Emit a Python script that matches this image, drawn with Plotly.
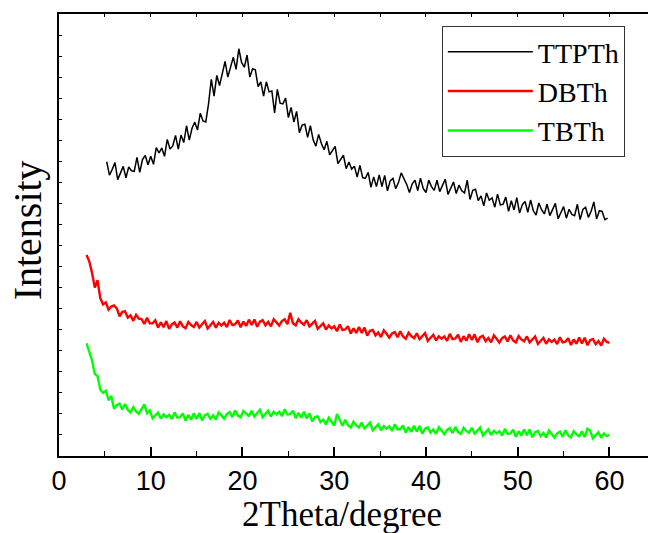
import plotly.graph_objects as go

# ---- data ----
# scan grids: start angle and step (2theta, degree)
TTPTH_START, DB_START, TB_START, STEP = 5.2, 3.0, 3.0, 0.3

ttpth = [
    13.98, 13.34, 13.62, 13.94, 13.13, 13.43, 13.76, 13.22, 13.73, 13.55,
    13.52, 14.19, 13.48, 14.08, 14.28, 13.84, 14.24, 13.86, 14.65, 14.4,
    14.63, 14.24, 15.04, 14.59, 14.73, 15.23, 14.58, 15.25, 14.89, 15.69,
    15.01, 15.57, 15.86, 15.49, 16.29, 15.92, 15.87, 16.73, 17.9, 17.1,
    18.08, 17.6, 18.18, 18.75, 18.0, 18.47, 18.95, 18.37, 19.35, 18.7,
    18.47, 19.05, 18.0, 18.4, 18.35, 17.55, 17.78, 17.1, 17.78, 17.3,
    17.34, 16.3, 17.42, 16.76, 16.73, 17.0, 16.08, 16.56, 15.87, 16.37,
    15.36, 15.72, 15.76, 15.14, 15.69, 15.02, 14.72, 15.28, 14.85, 14.55,
    14.95, 14.31, 14.51, 14.71, 13.89, 14.09, 14.29, 13.65, 13.97, 13.63,
    13.77, 13.25, 13.81, 13.23, 13.19, 13.48, 12.76, 13.26, 12.8, 13.36,
    12.8, 13.33, 12.6, 13.07, 13.19, 12.7, 12.99, 13.45, 13.21, 12.9,
    12.52, 12.93, 13.1, 12.61, 13.2, 12.71, 12.52, 13.11, 12.8, 12.62,
    13.1, 12.56, 12.86, 13.15, 12.43, 12.72, 13.02, 12.47, 12.87, 12.6,
    12.5, 13.1, 12.19, 12.62, 12.67, 12.13, 12.36, 11.89, 12.5, 12.15,
    12.27, 11.82, 12.44, 11.93, 11.96, 12.3, 11.62, 12.13, 11.69, 12.28,
    11.54, 11.94, 12.09, 11.58, 12.16, 11.65, 11.45, 12.02, 11.7, 11.5,
    11.97, 11.42, 11.71, 12.0, 11.27, 11.56, 11.85, 11.3, 11.72, 11.48,
    11.42, 11.96, 11.23, 11.71, 11.82, 11.34, 11.63, 12.07, 11.26, 11.66,
    11.62, 11.23, 11.3,
]

dbth = [
    9.55, 9.25, 8.7, 8.0, 8.35, 7.5, 7.2, 7.3, 6.95, 7.1,
    7.15, 7.01, 6.63, 6.85, 6.87, 6.58, 6.68, 6.42, 6.71, 6.53,
    6.51, 6.27, 6.57, 6.3, 6.3, 6.45, 6.1, 6.35, 6.12, 6.41,
    6.04, 6.25, 6.34, 6.1, 6.4, 6.16, 6.07, 6.37, 6.22, 6.13,
    6.37, 6.1, 6.26, 6.41, 6.06, 6.21, 6.37, 6.1, 6.32, 6.2,
    6.33, 6.12, 6.46, 6.22, 6.26, 6.44, 6.12, 6.39, 6.18, 6.48,
    6.22, 6.49, 6.14, 6.38, 6.45, 6.21, 6.37, 6.16, 6.5, 6.35,
    6.2, 6.41, 6.5, 6.26, 6.8, 6.31, 6.21, 6.5, 6.34, 6.24,
    6.45, 6.16, 6.29, 6.42, 6.04, 6.17, 6.3, 6.01, 6.2, 6.06,
    6.16, 5.93, 6.25, 5.99, 6.01, 6.17, 5.82, 6.07, 5.85, 6.13,
    5.84, 6.1, 5.72, 5.95, 5.99, 5.73, 5.87, 5.65, 5.97, 5.81,
    5.62, 5.82, 5.89, 5.64, 5.93, 5.68, 5.57, 5.86, 5.7, 5.6,
    5.83, 5.55, 5.69, 5.84, 5.47, 5.62, 5.76, 5.49, 5.69, 5.57,
    5.68, 5.47, 5.8, 5.55, 5.58, 5.76, 5.42, 5.69, 5.48, 5.78,
    5.51, 5.78, 5.41, 5.65, 5.71, 5.46, 5.61, 5.4, 5.73, 5.57,
    5.39, 5.6, 5.68, 5.44, 5.74, 5.49, 5.4, 5.7, 5.54, 5.45,
    5.68, 5.4, 5.54, 5.68, 5.32, 5.46, 5.61, 5.33, 5.54, 5.42,
    5.53, 5.32, 5.64, 5.4, 5.43, 5.6, 5.27, 5.54, 5.33, 5.63,
    5.35, 5.62, 5.26, 5.5, 5.56, 5.31, 5.46, 5.25, 5.57, 5.42, 5.38,
]

tbth = [
    5.35, 4.9, 4.55, 3.9, 3.8, 3.15, 3.0, 3.1, 2.65, 2.85,
    2.24, 2.43, 2.49, 2.21, 2.47, 2.2, 2.07, 2.32, 2.12, 2.0,
    2.2, 2.45, 2.04, 2.17, 1.79, 1.92, 2.06, 1.78, 1.98, 1.85,
    1.96, 1.75, 2.07, 1.82, 1.85, 2.02, 1.68, 1.95, 1.73, 2.03,
    1.76, 2.04, 1.69, 1.94, 2.0, 1.77, 1.93, 1.73, 2.07, 1.93,
    1.77, 1.99, 2.09, 1.85, 2.16, 1.92, 1.84, 2.14, 2.0, 1.91,
    2.15, 1.88, 2.04, 2.19, 1.84, 1.99, 2.15, 1.88, 2.1, 1.98,
    2.1, 1.89, 2.22, 1.97, 1.99, 2.15, 1.8, 2.05, 1.82, 2.1,
    1.79, 2.03, 1.64, 1.85, 1.88, 1.61, 1.73, 1.5, 1.81, 1.64,
    1.44, 2.0, 1.7, 1.44, 1.72, 1.46, 1.35, 1.63, 1.46, 1.36,
    1.59, 1.31, 1.45, 1.59, 1.22, 1.36, 1.5, 1.22, 1.42, 1.3,
    1.41, 1.19, 1.51, 1.26, 1.28, 1.45, 1.11, 1.37, 1.15, 1.44,
    1.16, 1.43, 1.06, 1.3, 1.36, 1.11, 1.26, 1.05, 1.37, 1.22,
    1.04, 1.24, 1.33, 1.09, 1.38, 1.14, 1.05, 1.34, 1.19, 1.1,
    1.34, 1.06, 1.2, 1.35, 0.98, 1.13, 1.27, 1.0, 1.2, 1.08,
    1.18, 0.97, 1.29, 1.05, 1.07, 1.25, 0.91, 1.18, 0.97, 1.26,
    0.99, 1.26, 0.89, 1.13, 1.19, 0.94, 1.09, 0.88, 1.21, 1.05,
    0.87, 1.08, 1.16, 0.92, 1.22, 0.98, 0.88, 1.18, 1.03, 0.94,
    1.17, 0.9, 1.3, 1.2, 0.84, 0.99, 1.13, 0.87, 1.07, 0.95, 1.0,
]

series_names = ["TTPTh", "DBTh", "TBTh"]
x_ticks = [0, 10, 20, 30, 40, 50, 60]


def grid(start, n):
    return [round(start + STEP * i, 2) for i in range(n)]


fig = go.Figure()
fig.add_trace(go.Scatter(x=grid(TTPTH_START, len(ttpth)), y=ttpth, mode="lines",
                         name=series_names[0], line=dict(color="black", width=1.5)))
fig.add_trace(go.Scatter(x=grid(DB_START, len(dbth)), y=dbth, mode="lines",
                         name=series_names[1], line=dict(color="#ff0000", width=2.4)))
fig.add_trace(go.Scatter(x=grid(TB_START, len(tbth)), y=tbth, mode="lines",
                         name=series_names[2], line=dict(color="#00ff00", width=2.4)))
# invisible trace to carry the top axis
fig.add_trace(go.Scatter(x=[0], y=[0], xaxis="x2", mode="lines",
                         showlegend=False, hoverinfo="skip", line=dict(width=0)))

tickfont = dict(family="Liberation Sans, Arial", size=27, color="black")
serif = "Liberation Serif, Times New Roman, serif"

fig.update_layout(
    width=648, height=533,
    margin=dict(l=59, r=0, t=14, b=77),
    paper_bgcolor="white", plot_bgcolor="white",
    showlegend=True,
    legend=dict(x=0.65, y=0.973, xanchor="left", yanchor="top",
                bgcolor="white", bordercolor="#333333", borderwidth=1,
                font=dict(family=serif, size=28, color="black"),
                itemwidth=85, tracegroupgap=0),
    xaxis=dict(range=[0, 64.2], tickvals=x_ticks, ticks="inside", ticklen=9,
               tickwidth=1.5, tickcolor="black", showline=True, linecolor="black",
               linewidth=2, showgrid=False, zeroline=False, tickfont=tickfont,
               ticklabelstandoff=0,
               minor=dict(dtick=5, tick0=0, ticks="inside", ticklen=5,
                          tickwidth=1.2, tickcolor="black")),
    xaxis2=dict(range=[0, 64.2], overlaying="x", side="top", dtick=5, tick0=0,
                ticks="inside", ticklen=3, tickcolor="black", showline=True,
                linecolor="black", linewidth=2, showticklabels=False,
                showgrid=False, zeroline=False),
    yaxis=dict(range=[0, 21], dtick=1, tick0=0, ticks="inside", ticklen=3,
               tickcolor="black", showline=True, linecolor="black", linewidth=2,
               showticklabels=False, showgrid=False, zeroline=False),
    annotations=[
        dict(text="2Theta/degree", xref="paper", yref="paper",
             x=(342 - 59) / 589, y=-0.133, xanchor="center", yanchor="middle",
             showarrow=False, font=dict(family=serif, size=35, color="black")),
        dict(text="Intensity", xref="paper", yref="paper",
             x=-0.053, y=0.51, xanchor="center", yanchor="middle", textangle=-90,
             showarrow=False, font=dict(family=serif, size=40, color="black")),
    ],
)

fig.write_html("out.html")
